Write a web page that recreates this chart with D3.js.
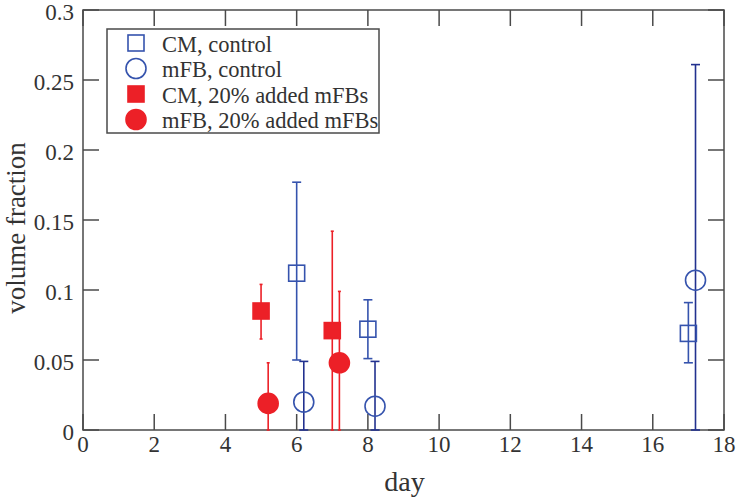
<!DOCTYPE html>
<html>
<head>
<meta charset="utf-8">
<script src="https://cdn.jsdelivr.net/npm/d3@7"></script>
<style>
  body {margin: 0; background: #fff;}
  text {font-family: 'Liberation Serif', 'DejaVu Serif', serif; fill: #333;}
</style>
</head>
<body>
<div id='graph'></div>
<script>

// CM, control
var cmCtrlDay = [6, 8, 17]
var cmCtrlVal = [0.112, 0.072, 0.069]
var cmCtrlLo  = [0.050, 0.051, 0.048]
var cmCtrlHi  = [0.177, 0.093, 0.091]

// mFB, control
var fbCtrlDay = [6.2, 8.2, 17.2]
var fbCtrlVal = [0.020, 0.017, 0.107]
var fbCtrlLo  = [0, 0, 0]
var fbCtrlHi  = [0.049, 0.049, 0.261]

// CM, 20% added mFBs
var cmAddDay = [5, 7]
var cmAddVal = [0.085, 0.071]
var cmAddLo  = [0.065, 0]
var cmAddHi  = [0.104, 0.142]

// mFB, 20% added mFBs
var fbAddDay = [5.2, 7.2]
var fbAddVal = [0.019, 0.048]
var fbAddLo  = [0, 0]
var fbAddHi  = [0.048, 0.099]

var legendLabels = ['CM, control', 'mFB, control', 'CM, 20% added mFBs', 'mFB, 20% added mFBs']
var xTicks = [0, 2, 4, 6, 8, 10, 12, 14, 16, 18]
var yTicks = [0, 0.05, 0.1, 0.15, 0.2, 0.25, 0.3]

var blue = '#3553ad', navy = '#22318f', red = '#ec2027'

var margin = {left: 83, top: 10, right: 15, bottom: 70}
var width = 739 - margin.left - margin.right
var height = 500 - margin.top - margin.bottom

var svg = d3.select('#graph').append('svg')
  .attr('width', 739).attr('height', 500)
var g = svg.append('g').attr('transform', `translate(${margin.left},${margin.top})`)

var x = d3.scaleLinear().domain([0, 18]).range([0, width])
var y = d3.scaleLinear().domain([0, 0.3]).range([height, 0])

var tickLen = 16, axisColor = '#4a4a4a'

// frame + inward ticks on all four sides
g.append('rect').attr('width', width).attr('height', height)
  .style('fill', 'none').style('stroke', axisColor).style('stroke-width', 1.5)

xTicks.forEach(d => {
  g.append('line').attr('x1', x(d)).attr('x2', x(d)).attr('y1', height).attr('y2', height - tickLen)
    .style('stroke', axisColor).style('stroke-width', 1.5)
  g.append('line').attr('x1', x(d)).attr('x2', x(d)).attr('y1', 0).attr('y2', tickLen)
    .style('stroke', axisColor).style('stroke-width', 1.5)
  g.append('text').attr('x', x(d)).attr('y', height + 22)
    .attr('text-anchor', 'middle').attr('font-size', 23).text(d)
})

yTicks.forEach(d => {
  g.append('line').attr('x1', 0).attr('x2', tickLen).attr('y1', y(d)).attr('y2', y(d))
    .style('stroke', axisColor).style('stroke-width', 1.5)
  g.append('line').attr('x1', width).attr('x2', width - tickLen).attr('y1', y(d)).attr('y2', y(d))
    .style('stroke', axisColor).style('stroke-width', 1.5)
  g.append('text').attr('x', -9).attr('y', y(d) + 2).attr('dy', '0.35em')
    .attr('text-anchor', 'end').attr('font-size', 23).text(String(d))
})

g.append('text').attr('x', width / 2 + 1).attr('y', height + 61)
  .attr('text-anchor', 'middle').attr('font-size', 28).text('day')
g.append('text').attr('transform', `translate(-58,${height / 2 + 8}) rotate(-90)`)
  .attr('text-anchor', 'middle').attr('font-size', 27).text('volume fraction')

function series(days, vals, lo, hi){
  return days.map((d, i) => ({day: d, val: vals[i], lo: lo[i], hi: hi[i]}))
}

function errorBars(data, color, cap){
  var sel = g.append('g').selectAll('g').data(data).join('g')
    .style('stroke', color).style('stroke-width', 1.6)
  sel.append('line').attr('x1', d => x(d.day)).attr('x2', d => x(d.day))
    .attr('y1', d => y(d.lo)).attr('y2', d => y(d.hi))
  sel.append('line').attr('x1', d => x(d.day) - cap).attr('x2', d => x(d.day) + cap)
    .attr('y1', d => y(d.hi)).attr('y2', d => y(d.hi))
  sel.append('line').attr('x1', d => x(d.day) - cap).attr('x2', d => x(d.day) + cap)
    .attr('y1', d => y(d.lo)).attr('y2', d => y(d.lo))
}

var cmCtrl = series(cmCtrlDay, cmCtrlVal, cmCtrlLo, cmCtrlHi)
var fbCtrl = series(fbCtrlDay, fbCtrlVal, fbCtrlLo, fbCtrlHi)
var cmAdd = series(cmAddDay, cmAddVal, cmAddLo, cmAddHi)
var fbAdd = series(fbAddDay, fbAddVal, fbAddLo, fbAddHi)

errorBars(cmCtrl, blue, 4.5)
errorBars(fbCtrl, navy, 4.5)
errorBars(cmAdd, red, 1.5)
errorBars(fbAdd, red, 1.5)

var sq = 16, r = 10

function squares(data, color, filled){
  g.append('g').selectAll('rect').data(data).join('rect')
    .attr('x', d => x(d.day) - sq / 2).attr('y', d => y(d.val) - sq / 2)
    .attr('width', sq).attr('height', sq)
    .style('fill', filled ? color : 'none').style('stroke', color).style('stroke-width', 1.6)
}

function circles(data, color, filled){
  g.append('g').selectAll('circle').data(data).join('circle')
    .attr('cx', d => x(d.day)).attr('cy', d => y(d.val)).attr('r', r)
    .style('fill', filled ? color : 'none').style('stroke', color).style('stroke-width', 1.6)
}

squares(cmCtrl, blue, false)
circles(fbCtrl, blue, false)
squares(cmAdd, red, true)
circles(fbAdd, red, true)

// legend
var lg = svg.append('g').attr('transform', 'translate(107,29)')
lg.append('rect').attr('width', 272).attr('height', 104)
  .style('fill', '#fff').style('stroke', axisColor).style('stroke-width', 1.5)

var legendRows = [
  {shape: 'square', color: blue, filled: false},
  {shape: 'circle', color: blue, filled: false},
  {shape: 'square', color: red, filled: true},
  {shape: 'circle', color: red, filled: true}
]

legendRows.forEach((d, i) => {
  var cy = 14 + i * 25.5
  if (d.shape == 'square'){
    lg.append('rect').attr('x', 29 - sq / 2).attr('y', cy - sq / 2).attr('width', sq).attr('height', sq)
      .style('fill', d.filled ? d.color : 'none').style('stroke', d.color).style('stroke-width', 1.6)
  } else {
    lg.append('circle').attr('cx', 29).attr('cy', cy).attr('r', r)
      .style('fill', d.filled ? d.color : 'none').style('stroke', d.color).style('stroke-width', 1.6)
  }
  lg.append('text').attr('x', 55).attr('y', cy + 1).attr('dy', '0.35em')
    .attr('font-size', 22.5).text(legendLabels[i])
})

</script>
</body>
</html>
